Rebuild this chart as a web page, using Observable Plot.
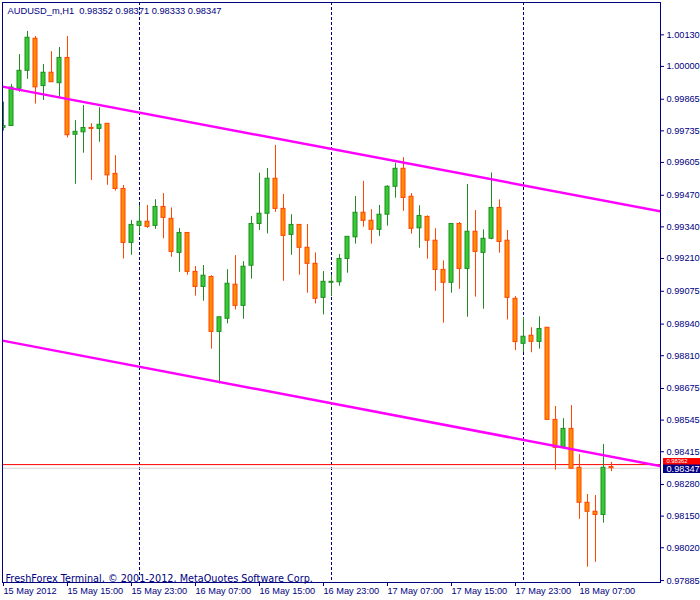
<!DOCTYPE html>
<html>
<head>
<meta charset="utf-8">
<script src="https://cdn.jsdelivr.net/npm/d3@7"></script>
<script src="https://cdn.jsdelivr.net/npm/@observablehq/plot@0.6"></script>
<style>
html, body { margin: 0; padding: 0; background: #ffffff; }
#chart svg { display: block; background: #ffffff; }
</style>
</head>
<body>
<div id="chart"></div>
<script>
// ---- data (AUDUSD_m, H1, 15 May 2012 07:00 .. 18 May 2012 11:00) ----
const symbol = "AUDUSD_m,H1";
const copyright = "FreshForex Terminal, \u00a9 2001-2012, MetaQuotes Software Corp.";

const open = [
  0.99747, 0.99755, 0.99908, 0.99982, 1.00114, 0.99919, 0.99974, 0.99931, 1.00035, 0.99719,
  0.99729, 0.99747, 0.99743, 0.99764, 0.99558, 0.99496, 0.99274, 0.99344, 0.99361, 0.99344,
  0.99422, 0.99373, 0.99233, 0.99315, 0.99155, 0.99093, 0.99134, 0.98908, 0.98962, 0.99102,
  0.99015, 0.99180, 0.99352, 0.99394, 0.99538, 0.99414, 0.99307, 0.99348, 0.99254, 0.99188,
  0.99048, 0.99110, 0.99112, 0.99208, 0.99297, 0.99398, 0.99365, 0.99328, 0.99390, 0.99505,
  0.99579, 0.99464, 0.99334, 0.99381, 0.99283, 0.99163, 0.99110, 0.99352, 0.99167, 0.99320,
  0.99233, 0.99291, 0.99418, 0.99283, 0.99044, 0.98859, 0.98892, 0.98867, 0.98925, 0.98546,
  0.98431, 0.98509, 0.98349, 0.98205, 0.98168, 0.98155, 0.98352
];
const high = [
  0.99853, 0.99926, 1.00049, 1.00144, 1.00123, 1.00008, 1.00061, 1.00078, 1.00123, 0.99777,
  0.99839, 0.99764, 0.99830, 0.99764, 0.99633, 0.99510, 0.99366, 0.99428, 0.99428, 0.99452,
  0.99477, 0.99418, 0.99333, 0.99315, 0.99177, 0.99181, 0.99139, 0.98968, 0.99164, 0.99222,
  0.99197, 0.99383, 0.99561, 0.99580, 0.99675, 0.99473, 0.99390, 0.99348, 0.99350, 0.99233,
  0.99156, 0.99139, 0.99226, 0.99299, 0.99465, 0.99527, 0.99411, 0.99428, 0.99509, 0.99602,
  0.99625, 0.99477, 0.99427, 0.99385, 0.99332, 0.99200, 0.99352, 0.99358, 0.99514, 0.99407,
  0.99328, 0.99562, 0.99451, 0.99325, 0.99053, 0.98968, 0.98925, 0.98970, 0.98925, 0.98601,
  0.98551, 0.98605, 0.98403, 0.98239, 0.98235, 0.98445, 0.98371
];
const low = [
  0.99734, 0.99755, 0.99894, 0.99947, 0.99845, 0.99860, 0.99935, 0.99873, 0.99706, 0.99515,
  0.99643, 0.99531, 0.99688, 0.99511, 0.99487, 0.99208, 0.99223, 0.99311, 0.99334, 0.99330,
  0.99291, 0.99215, 0.99153, 0.99141, 0.99055, 0.99034, 0.98837, 0.98694, 0.98941, 0.98998,
  0.98960, 0.99125, 0.99325, 0.99311, 0.99400, 0.99116, 0.99223, 0.99141, 0.99067, 0.99023,
  0.98978, 0.99053, 0.99096, 0.99149, 0.99269, 0.99339, 0.99269, 0.99301, 0.99343, 0.99458,
  0.99404, 0.99310, 0.99252, 0.99207, 0.99075, 0.98944, 0.99067, 0.99083, 0.98968, 0.99051,
  0.99001, 0.99287, 0.99232, 0.98957, 0.98831, 0.98823, 0.98822, 0.98837, 0.98546, 0.98339,
  0.98431, 0.98345, 0.98137, 0.97940, 0.97960, 0.98121, 0.98333
];
const close = [
  0.99755, 0.99913, 0.99982, 1.00118, 0.99914, 0.99974, 0.99935, 1.00035, 0.99717, 0.99731,
  0.99747, 0.99743, 0.99760, 0.99552, 0.99496, 0.99274, 0.99348, 0.99361, 0.99340, 0.99422,
  0.99377, 0.99237, 0.99315, 0.99155, 0.99093, 0.99139, 0.98908, 0.98968, 0.99106, 0.99015,
  0.99176, 0.99352, 0.99394, 0.99538, 0.99414, 0.99303, 0.99348, 0.99254, 0.99188, 0.99044,
  0.99114, 0.99114, 0.99208, 0.99299, 0.99398, 0.99365, 0.99328, 0.99390, 0.99505, 0.99579,
  0.99459, 0.99332, 0.99385, 0.99283, 0.99163, 0.99110, 0.99352, 0.99167, 0.99320, 0.99237,
  0.99291, 0.99418, 0.99278, 0.99048, 0.98866, 0.98888, 0.98867, 0.98920, 0.98546, 0.98431,
  0.98509, 0.98345, 0.98205, 0.98168, 0.98155, 0.98349, 0.98347
];

const yTicks = [1.00130, 1.00000, 0.99865, 0.99735, 0.99605, 0.99470, 0.99340, 0.99210, 0.99075,
                0.98940, 0.98810, 0.98675, 0.98545, 0.98415, 0.98280, 0.98150, 0.98020, 0.97885];
const xTickBars = [0, 8, 16, 24, 32, 40, 48, 56, 64, 72];
const xTickLabels = ["15 May 2012", "15 May 15:00", "15 May 23:00", "16 May 07:00", "16 May 15:00",
                     "16 May 23:00", "17 May 07:00", "17 May 15:00", "17 May 23:00", "18 May 07:00"];
const daySeparatorBars = [17, 41, 65];   // 16 May 00:00, 17 May 00:00, 18 May 00:00

// channel trend lines (bar index, price)
const upperChannelBars = [-0.125, 82.125];
const upperChannelPrices = [0.99917, 0.99404];
const lowerChannelBars = [-0.125, 82.125];
const lowerChannelPrices = [0.98872, 0.98356];

const bidPrice = 0.98347;
const askPrice = 0.98362;

// ---- styles ----
const NAVY = "#000080";
const BULL_FILL = "#32CD32", BULL_LINE = "#228B22";
const BEAR_FILL = "#FF8C00", BEAR_LINE = "#FF4500";
const FONT = "'Liberation Sans', Arial, sans-serif";

// ---- tables ----
const bars = open.map((o, i) => ({i, o, h: high[i], l: low[i], c: close[i], up: close[i] > open[i]}));
const upperLine = upperChannelBars.map((b, k) => ({bar: b, price: upperChannelPrices[k]}));
const lowerLine = lowerChannelBars.map((b, k) => ({bar: b, price: lowerChannelPrices[k]}));
const xLabelMap = new Map(xTickBars.map((b, k) => [b, xTickLabels[k]]));
const last = bars[bars.length - 1];
const titleText = symbol + "\u00a0\u00a0" + [last.o, last.h, last.l, last.c].map(v => v.toFixed(5)).join(" ");
const xMax = 82.125;

const chart = Plot.plot({
  width: 700,
  height: 600,
  marginLeft: 2,
  marginRight: 40,
  marginTop: 2,
  marginBottom: 18,
  style: {background: "#ffffff", color: NAVY, overflow: "visible"},
  x: {domain: [-0.125, xMax]},
  y: {domain: [0.97877, 1.00263]},
  color: {type: "identity"},
  marks: [
    // day separators
    Plot.ruleX(daySeparatorBars, {x: d => d, stroke: NAVY, strokeDasharray: "3,2", strokeWidth: 1}),
    // bid / ask lines
    Plot.ruleY([bidPrice], {y: d => d, stroke: "#d3d3d3"}),
    Plot.ruleY([askPrice], {y: d => d, stroke: "#ff0000"}),
    // candles: wicks
    Plot.ruleX(bars, {x: "i", y1: "l", y2: "h", stroke: d => d.up ? BULL_LINE : BEAR_LINE, strokeWidth: 1, clip: true}),
    // candles: bodies
    Plot.rect(bars, {
      x1: d => d.i - 0.25, x2: d => d.i + 0.25, y1: "o", y2: "c",
      fill: d => d.up ? BULL_FILL : BEAR_FILL,
      stroke: d => d.up ? BULL_LINE : BEAR_LINE,
      strokeWidth: 1, clip: true
    }),
    // channel lines
    Plot.line(upperLine, {x: "bar", y: "price", stroke: "#FF00FF", strokeWidth: 2.5, clip: true}),
    Plot.line(lowerLine, {x: "bar", y: "price", stroke: "#FF00FF", strokeWidth: 2.5, clip: true}),
    // axes
    Plot.axisY(yTicks, {
      anchor: "right", tickSize: 3, tickPadding: 3, tickFormat: d => d.toFixed(5),
      color: NAVY, fontSize: 9.2, fontFamily: FONT
    }),
    Plot.axisX(xTickBars, {
      anchor: "bottom", tickSize: 4, tickPadding: 1, tickFormat: d => xLabelMap.get(d),
      textAnchor: "start", color: NAVY, fontSize: 9.2, fontFamily: FONT
    }),
    Plot.frame({stroke: NAVY}),
    // price tags on the right scale (ask tag mostly covered by the bid tag)
    Plot.ruleY([askPrice], {y: d => d, x1: xMax + 0.375, x2: xMax + 5.5, stroke: "#ff0000", strokeWidth: 13}),
    Plot.text([askPrice], {y: d => d, text: d => d.toFixed(5), frameAnchor: "right", dx: 6, dy: -3.6,
      textAnchor: "start", fill: "#ffffff", fontSize: 5.8, fontFamily: FONT}),
    Plot.ruleY([bidPrice], {y: d => d, x1: xMax + 0.375, x2: xMax + 5.5, dy: 0.6, stroke: NAVY, strokeWidth: 8.5}),
    Plot.text([bidPrice], {y: d => d, text: d => d.toFixed(5), frameAnchor: "right", dx: 6, dy: 0.8,
      textAnchor: "start", fill: "#ffffff", fontSize: 9.2, fontFamily: FONT}),
    // title and copyright
    Plot.text([titleText], {text: d => d, frameAnchor: "top-left", dx: 5, dy: 5,
      fill: NAVY, fontSize: 9.3, fontFamily: FONT}),
    Plot.text([copyright], {text: d => d, frameAnchor: "bottom-left", dx: 3, dy: -1,
      fill: NAVY, fontSize: 9.7, fontFamily: "'DejaVu Sans', Verdana, sans-serif"})
  ]
});

document.getElementById("chart").appendChild(chart);
</script>
</body>
</html>
